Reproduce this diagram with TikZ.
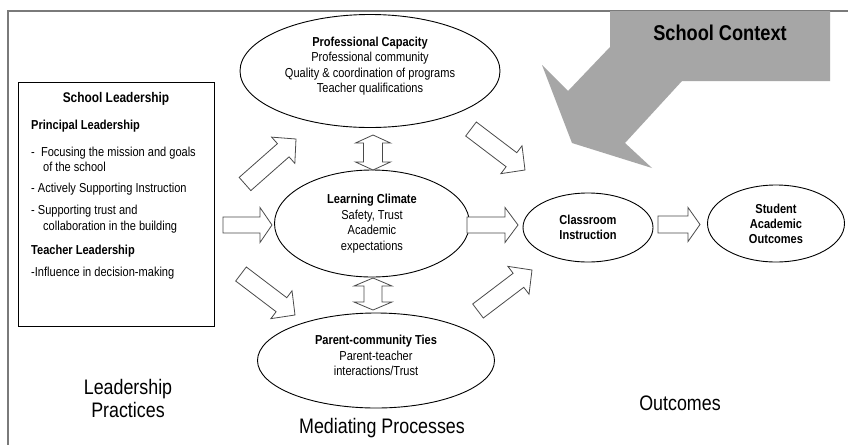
\documentclass[tikz,border=0pt]{standalone}
\usepackage{fontspec}
\setmainfont{Liberation Sans}[FakeStretch=0.85]
\usetikzlibrary{shapes.geometric,calc}
\definecolor{ctxgray}{HTML}{A6A6A6}
\definecolor{framegray}{HTML}{7A7A7A}
\definecolor{arrline}{HTML}{4A4A4A}
\tikzset{
  ell/.style={draw=black, line width=0.9pt, ellipse, inner sep=0pt, align=center,
    font=\fontsize{13}{15.5}\selectfont},
  elltext/.style={inner sep=0pt, align=center, font=\fontsize{13}{15.5}\selectfont},
  barrow/.style={draw=arrline, line width=0.8pt, fill=white, line join=miter},
  boxtxt/.style={anchor=base west, inner sep=0pt, font=\fontsize{13}{15.5}\selectfont},
  boxhead/.style={anchor=base west, inner sep=0pt, font=\fontsize{13}{15.5}\selectfont\bfseries},
  biglabel/.style={align=center, inner sep=0pt, font=\fontsize{21}{23}\selectfont},
}
% single block arrow: from, to, shaft half width, head half width, head length
\newcommand\blockarr[5]{%
  \draw[barrow] let \p1=(#1), \p2=(#2),
      \n1={atan2(\y2-\y1,\x2-\x1)}, \n2={veclen(\x2-\x1,\y2-\y1)} in
    [shift={(\p1)}, rotate=\n1]
    (0pt,{-#3pt}) -- ({\n2-#5pt},{-#3pt}) -- ({\n2-#5pt},{-#4pt}) -- ({\n2},0pt)
    -- ({\n2-#5pt},{#4pt}) -- ({\n2-#5pt},{#3pt}) -- (0pt,{#3pt}) -- cycle;}
% double block arrow
\newcommand\dblarr[5]{%
  \draw[barrow] let \p1=(#1), \p2=(#2),
      \n1={atan2(\y2-\y1,\x2-\x1)}, \n2={veclen(\x2-\x1,\y2-\y1)} in
    [shift={(\p1)}, rotate=\n1]
    (0pt,0pt) -- ({#5pt},{-#4pt}) -- ({#5pt},{-#3pt}) -- ({\n2-#5pt},{-#3pt})
    -- ({\n2-#5pt},{-#4pt}) -- ({\n2},0pt) -- ({\n2-#5pt},{#4pt}) -- ({\n2-#5pt},{#3pt})
    -- ({#5pt},{#3pt}) -- ({#5pt},{#4pt}) -- cycle;}
\begin{document}
\begin{tikzpicture}[x=1pt,y=-1pt]
\useasboundingbox (0,0) rectangle (848,445);
\fill[white] (0,0) rectangle (848,445);

% frame (top and left lines)
\draw[framegray, line width=1.5pt] (848,11) -- (8,11) -- (8,445);

% School context arrow
\fill[ctxgray] (610,11) -- (830,11) -- (830,81) -- (682,81) -- (625,143) -- (652,168)
  -- (572,143) -- (542,65) -- (568,91) -- (610,47) -- cycle;
\node[font=\fontsize{21.4}{24}\selectfont\bfseries, inner sep=0pt] (ctx) at (720,33) {School Context};

% leadership box
\node[draw=black, line width=0.9pt, minimum width=196pt, minimum height=244pt, inner sep=0pt] (lead) at (116,204) {};
\node[font=\fontsize{14}{16}\selectfont\bfseries, anchor=base, inner sep=0pt] (slh) at (116,102) {School Leadership};
\node[boxhead] (plh) at (31,129) {Principal Leadership};
\node[boxtxt] (pl1) at (31,156) {- \ Focusing the mission and goals};
\node[boxtxt] (pl1b) at (43,171) {of the school};
\node[boxtxt] (pl2) at (31,192) {- Actively Supporting Instruction};
\node[boxtxt] (pl3) at (31,214) {- Supporting trust and};
\node[boxtxt] (pl3b) at (43,230) {collaboration in the building};
\node[boxhead] (tlh) at (31,254) {Teacher Leadership};
\node[boxtxt] (tl1) at (31,276) {-Influence in decision-making};

% mediating processes ellipses
\node[ell, minimum width=260pt, minimum height=113pt,
  label={[elltext, yshift=5pt]center:{\textbf{Professional Capacity}\\Professional community\\Quality \& coordination of programs\\Teacher qualifications}}] (prof) at (370,71) {};
\node[ell, minimum width=195pt, minimum height=107pt] (lc) at (372,223.5)
  {\textbf{Learning Climate}\\Safety, Trust\\Academic\\expectations};
\node[ell, minimum width=237pt, minimum height=95pt,
  label={[elltext, yshift=5pt]center:{\textbf{Parent-community Ties}\\Parent-teacher\\interactions/Trust}}] (pct) at (376,360.5) {};

% outcomes ellipses
\node[ell, minimum width=130pt, minimum height=69pt, font=\fontsize{13}{15.5}\selectfont\bfseries] (ci) at (588,227.5)
  {Classroom\\Instruction};
\node[ell, minimum width=137pt, minimum height=77pt, font=\fontsize{13}{15}\selectfont\bfseries] (sao) at (776,223.5)
  {Student\\Academic\\Outcomes};

% column labels
\node[biglabel] (lp) at (128,398.5) {Leadership\\Practices};
\node[biglabel] (mp) at (382,428) {Mediating Processes};
\node[biglabel] (oc) at (680,403) {Outcomes};

% block arrow end points
\coordinate (a1s) at (245,184); \coordinate (a1e) at (296,139);
\coordinate (a2s) at (223,225); \coordinate (a2e) at (272,225);
\coordinate (a3s) at (241,274); \coordinate (a3e) at (295,315);
\coordinate (d1s) at (373,135); \coordinate (d1e) at (373,170);
\coordinate (d2s) at (373,278); \coordinate (d2e) at (373,310);
\coordinate (a6s) at (471,129); \coordinate (a6e) at (525,170);
\coordinate (a7s) at (467,225); \coordinate (a7e) at (518,225);
\coordinate (a8s) at (478,311); \coordinate (a8e) at (532,270);
\coordinate (a9s) at (658,224.5); \coordinate (a9e) at (700,224.5);

\blockarr{a1s}{a1e}{8.8}{17.5}{17}
\blockarr{a2s}{a2e}{8}{17.5}{12}
\blockarr{a3s}{a3e}{8.8}{17.5}{17}
\dblarr{d1s}{d1e}{9.5}{17.5}{8}
\dblarr{d2s}{d2e}{9}{19}{8}
\blockarr{a6s}{a6e}{8.8}{17.5}{17}
\blockarr{a7s}{a7e}{8}{17.5}{13}
\blockarr{a8s}{a8e}{8.8}{17.5}{17}
\blockarr{a9s}{a9e}{8.5}{17}{12}
\end{tikzpicture}
\end{document}
